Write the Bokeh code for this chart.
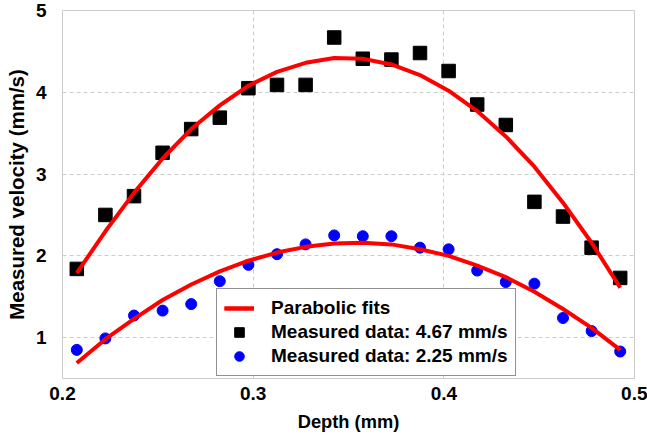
from bokeh.plotting import figure
from bokeh.models import Legend, LegendItem, FixedTicker
from bokeh.embed import file_html
from bokeh.resources import INLINE

# Depth positions (mm)
depth = [0.2075, 0.2225, 0.2375, 0.2525, 0.2675, 0.2825, 0.2975, 0.3125, 0.3275, 0.3425,
         0.3575, 0.3725, 0.3875, 0.4025, 0.4175, 0.4325, 0.4475, 0.4625, 0.4775, 0.4925]
# Measured data, peak 4.67 mm/s
v_fast = [1.84, 2.50, 2.73, 3.26, 3.55, 3.69, 4.05, 4.09, 4.09, 4.67,
          4.41, 4.40, 4.48, 4.26, 3.85, 3.60, 2.66, 2.48, 2.10, 1.73]
# Measured data, peak 2.25 mm/s
v_slow = [0.85, 0.99, 1.27, 1.33, 1.41, 1.69, 1.89, 2.02, 2.14, 2.25,
          2.24, 2.24, 2.10, 2.08, 1.82, 1.68, 1.66, 1.24, 1.08, 0.83]
# Parabolic fits
fit_fast = [1.79, 2.30, 2.77, 3.19, 3.55, 3.84, 4.08, 4.25, 4.36, 4.42,
            4.41, 4.34, 4.21, 4.02, 3.77, 3.46, 3.09, 2.65, 2.16, 1.61]
fit_slow = [0.69, 0.98, 1.23, 1.46, 1.65, 1.81, 1.94, 2.04, 2.11, 2.15,
            2.16, 2.14, 2.08, 2.00, 1.88, 1.74, 1.56, 1.35, 1.12, 0.85]

x_ticks = [0.2, 0.3, 0.4, 0.5]
y_ticks = [1, 2, 3, 4, 5]

FONT = "Liberation Sans"

p = figure(width=647, height=440, x_range=(0.2, 0.5), y_range=(0.5, 5),
           output_backend="svg", toolbar_location=None,
           min_border_left=62, min_border_right=13, min_border_top=10, min_border_bottom=62,
           styles={"position": "absolute", "left": "0px", "top": "0px"})

p.outline_line_color = "#cccccc"
p.outline_line_width = 1

for ax in (p.xaxis[0], p.yaxis[0]):
    ax.axis_line_color = None
    ax.major_tick_line_color = None
    ax.minor_tick_line_color = None
    ax.major_label_text_font = FONT
    ax.major_label_text_font_style = "bold"
    ax.major_label_text_font_size = "19px"
    ax.major_label_text_color = "black"
    ax.axis_label_text_font = FONT
    ax.axis_label_text_font_style = "bold"
    ax.axis_label_text_color = "black"

p.xaxis.axis_label_text_font_size = "18.3px"
p.yaxis.axis_label_text_font_size = "20.5px"

p.xaxis.ticker = FixedTicker(ticks=x_ticks)
p.yaxis.ticker = FixedTicker(ticks=y_ticks)
p.xaxis.axis_label = "Depth (mm)"
p.yaxis.axis_label = "Measured velocity (mm/s)"
p.xaxis.major_label_standoff = 2
p.xaxis.axis_label_standoff = 8
p.yaxis.major_label_standoff = 10
p.yaxis.axis_label_standoff = 5

for g in (p.xgrid[0], p.ygrid[0]):
    g.grid_line_color = "#cccccc"
    g.grid_line_dash = "4 3"
    g.grid_line_width = 1

sq = p.scatter(depth, v_fast, marker="square", size=13.5, color="black")
ci = p.scatter(depth, v_slow, marker="circle", size=11, color="blue")
l1 = p.line(depth, fit_fast, line_color="red", line_width=4)
l2 = p.line(depth, fit_slow, line_color="red", line_width=4)

legend = Legend(items=[
    LegendItem(label="Parabolic fits", renderers=[l1, l2]),
    LegendItem(label="Measured data: 4.67 mm/s", renderers=[sq]),
    LegendItem(label="Measured data: 2.25 mm/s", renderers=[ci]),
], location=(154, 2))
legend.label_text_font = FONT
legend.label_text_font_style = "bold"
legend.label_text_font_size = "19px"
legend.label_text_color = "black"
legend.glyph_width = 30
legend.glyph_height = 24
legend.label_height = 24
legend.spacing = 0
legend.padding = 7
legend.label_standoff = 17
legend.border_line_color = "#222222"
legend.border_line_width = 1
legend.background_fill_color = "white"
legend.background_fill_alpha = 1
legend.margin = 0
p.add_layout(legend, "center")

open("out.html", "w").write(file_html(p, INLINE))
